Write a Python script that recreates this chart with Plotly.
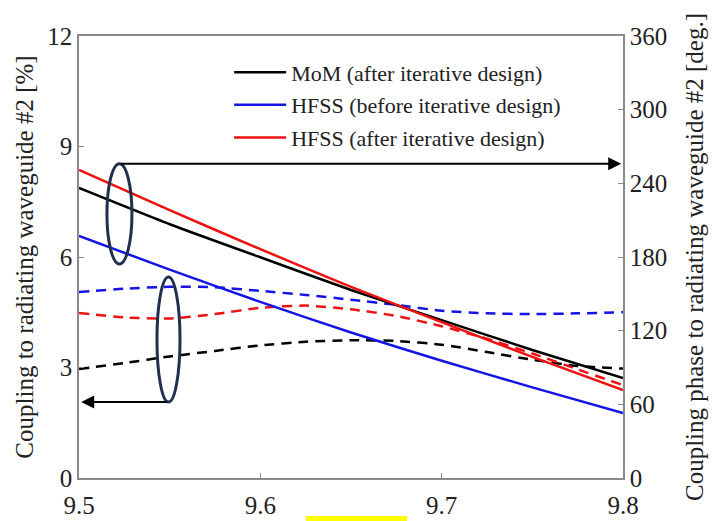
import plotly.graph_objects as go

# Frequency samples [GHz]
freq_phase = [9.5, 9.55, 9.6, 9.65, 9.7, 9.75, 9.8]
freq_coup = [9.5, 9.525, 9.55, 9.575, 9.6, 9.625, 9.65, 9.675, 9.7, 9.725, 9.75, 9.775, 9.8]

# Coupling phase [deg.] (solid lines, right axis)
phase_mom_after = [236.2, 206.7, 179.8, 153.1, 128.6, 104.3, 81.5]
phase_hfss_before = [197.1, 169.7, 143.4, 118.5, 95.5, 73.8, 52.9]
phase_hfss_after = [250.9, 218.1, 186.4, 155.7, 126.9, 98.6, 71.7]

# Coupling [%] (dashed lines, left axis)
coup_mom_after = [2.96, 3.12, 3.3, 3.45, 3.6, 3.7, 3.74, 3.72, 3.62, 3.42, 3.21, 3.04, 2.97]
coup_hfss_before = [5.05, 5.14, 5.19, 5.18, 5.08, 4.97, 4.84, 4.7, 4.54, 4.47, 4.45, 4.47, 4.5]
coup_hfss_after = [4.48, 4.36, 4.33, 4.45, 4.62, 4.68, 4.58, 4.4, 4.12, 3.78, 3.38, 2.95, 2.52]

names = ["MoM (after iterative design)", "HFSS (before iterative design)", "HFSS (after iterative design)"]
colors = ["#000000", "#1414e6", "#ee1111"]

x_ticks = [9.5, 9.6, 9.7, 9.8]
y_left_ticks = [0, 3, 6, 9, 12]
y_right_ticks = [0, 60, 120, 180, 240, 300, 360]

FONT = "Liberation Serif, Times New Roman, serif"
AX_COLOR = "#8a8a8a"
ELLIPSE = "#22304f"

fig = go.Figure()

for name, col, ph in zip(names, colors, [phase_mom_after, phase_hfss_before, phase_hfss_after]):
    fig.add_trace(go.Scatter(x=freq_phase, y=ph, mode="lines", name=name, legendgroup=name,
                             line=dict(color=col, width=2.5, shape="spline", smoothing=0.6),
                             yaxis="y2"))

for name, col, cp in zip(names, colors, [coup_mom_after, coup_hfss_before, coup_hfss_after]):
    fig.add_trace(go.Scatter(x=freq_coup, y=cp, mode="lines", name=name, legendgroup=name,
                             showlegend=False,
                             line=dict(color=col, width=2.5, dash="10px,7px", shape="spline", smoothing=0.6),
                             yaxis="y"))

# Ellipse marking the phase curves, with a pointer to the right axis
fig.add_shape(type="circle", xref="x", yref="y", x0=9.5154, x1=9.5292, y0=5.81, y1=8.53,
              line=dict(color=ELLIPSE, width=3))
fig.add_annotation(x=9.799, y=8.53, ax=9.5223, ay=8.53, xref="x", yref="y", axref="x", ayref="y",
                   text="", showarrow=True, arrowhead=2, arrowsize=1.3, arrowwidth=2, arrowcolor="#000000")

# Ellipse marking the coupling curves, with a pointer to the left axis
fig.add_shape(type="circle", xref="x", yref="y", x0=9.5430, x1=9.5557, y0=2.06, y1=5.46,
              line=dict(color=ELLIPSE, width=3))
fig.add_annotation(x=9.5012, y=2.06, ax=9.5493, ay=2.06, xref="x", yref="y", axref="x", ayref="y",
                   text="", showarrow=True, arrowhead=2, arrowsize=1.3, arrowwidth=2, arrowcolor="#000000")

# Highlight strip under the frequency axis
fig.add_shape(type="rect", xref="paper", yref="paper", x0=0.417, x1=0.603, y0=-0.099, y1=-0.086,
              fillcolor="#ffff00", line=dict(width=0))

fig.update_layout(
    width=714, height=521,
    margin=dict(l=79, r=91, t=36, b=43, autoexpand=False),
    paper_bgcolor="white", plot_bgcolor="white",
    font=dict(family=FONT, size=25, color="#222222"),
    legend=dict(x=0.276, y=0.965, xanchor="left", yanchor="top", bgcolor="rgba(0,0,0,0)",
                font=dict(family=FONT, size=22, color="#222222"), tracegroupgap=1, itemwidth=52),
    xaxis=dict(range=[9.5, 9.8], tickvals=x_ticks, ticktext=[f"{v:.1f}" for v in x_ticks],
               ticks="inside", ticklen=5, tickcolor=AX_COLOR, showline=True, linecolor=AX_COLOR,
               linewidth=1.5, mirror=True, showgrid=False, zeroline=False, ticklabelstandoff=4,
               automargin=False),
    yaxis=dict(range=[0, 12], tickvals=y_left_ticks, ticks="inside", ticklen=5, tickcolor=AX_COLOR,
               showline=True, linecolor=AX_COLOR, linewidth=1.5, showgrid=False, zeroline=False,
               automargin=False,
               title=dict(text="Coupling to radiating waveguide #2 [%]", standoff=7,
                          font=dict(family=FONT, size=25))),
    yaxis2=dict(range=[0, 360], tickvals=y_right_ticks, ticks="inside", ticklen=5, tickcolor=AX_COLOR,
                overlaying="y", side="right", showline=True, linecolor=AX_COLOR, linewidth=1.5,
                showgrid=False, zeroline=False, automargin=False,
                title=dict(text="Coupling phase to radiating waveguide #2 [deg.]", standoff=19,
                           font=dict(family=FONT, size=25))),
)

fig.write_html("out.html")
